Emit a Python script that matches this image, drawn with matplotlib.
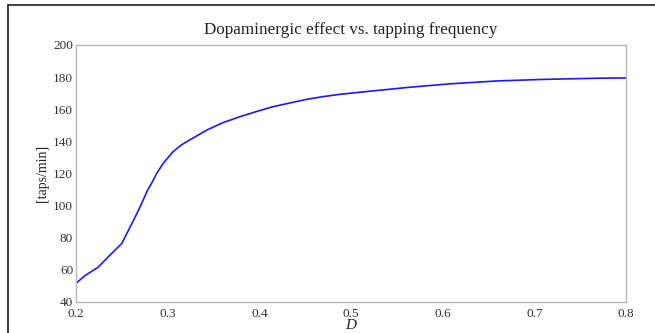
import matplotlib.pyplot as plt
from matplotlib.lines import Line2D

# 값은 그림에서 눈으로 읽은 것
D = [0.200, 0.210, 0.224, 0.239, 0.250, 0.262, 0.270, 0.278, 0.284, 0.288,
     0.296, 0.306, 0.315, 0.324, 0.343, 0.360, 0.379, 0.397, 0.415, 0.434,
     0.452, 0.470, 0.488, 0.520, 0.564, 0.610, 0.659, 0.710, 0.768, 0.800]
taps = [51.6, 56.5, 61.6, 70.3, 76.5, 90.0, 99.3, 109.5, 115.5, 120.1,
        127.0, 133.6, 137.8, 140.9, 147.1, 151.6, 155.4, 158.6, 161.6, 164.0,
        166.2, 167.9, 169.3, 171.2, 173.7, 175.9, 177.6, 178.6, 179.3, 179.5]

xticks = [0.2, 0.3, 0.4, 0.5, 0.6, 0.7, 0.8]
yticks = [40, 60, 80, 100, 120, 140, 160, 180, 200]

plt.rcParams['font.family'] = ['Liberation Serif', 'DejaVu Serif']

fig = plt.figure(figsize=(6.55, 3.33), dpi=100)
W, H = 655, 333
ax = fig.add_axes([76 / W, 1 - 302 / H, (626 - 76) / W, (302 - 45) / H])

ax.plot(D, taps, color='#1a1aff', linewidth=1.2)

ax.set_xlim(0.2, 0.8)
ax.set_ylim(40, 200)
ax.set_xticks(xticks)
ax.set_xticklabels([f'{t:.1f}' for t in xticks])
ax.set_yticks(yticks)
ax.set_yticklabels([str(t) for t in yticks])
ax.tick_params(length=0, labelsize=9.5, colors='#333333', pad=2)
ax.tick_params(axis='x', pad=4)

for s in ax.spines.values():
    s.set_color('#b8b8b8')
    s.set_linewidth(1.0)

ax.set_title('Dopaminergic effect vs. tapping frequency', fontsize=12.3, color='#222222', pad=8)
ax.set_ylabel('[taps/min]', fontsize=10, color='#222222')
ax.yaxis.set_label_coords(-0.05, 0.5)
ax.set_xlabel('D', fontsize=11, style='italic', color='#222222')
ax.xaxis.set_label_coords(0.5, -0.068)

# 스크린샷 테두리 (왼쪽, 위)
fig.add_artist(Line2D([7.5 / W, 7.5 / W], [0, 1 - 5 / H], transform=fig.transFigure,
                      color='#333333', linewidth=1.3))
fig.add_artist(Line2D([7.5 / W, 1], [1 - 5 / H, 1 - 5 / H], transform=fig.transFigure,
                      color='#333333', linewidth=1.3))

fig.savefig('out.png', dpi=100)
